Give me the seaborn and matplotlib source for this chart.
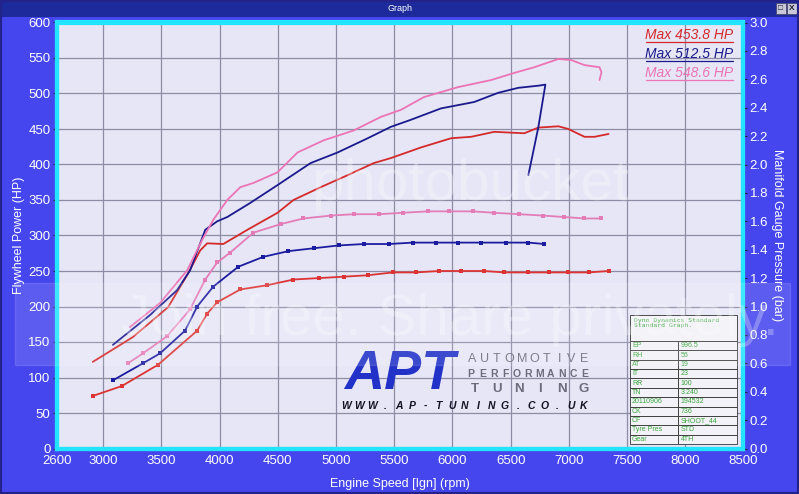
import numpy as np
import pandas as pd
import matplotlib
matplotlib.use("Agg")
import matplotlib.pyplot as plt
import seaborn as sns
from matplotlib.patches import Rectangle
from matplotlib.lines import Line2D
from matplotlib.transforms import IdentityTransform

# --- flywheel power (HP) ---
red_power_rpm = [2910, 3255, 3557, 3730, 3833, 3893, 4031, 4238, 4497, 4634, 4867, 5100, 5324,
                 5470, 5729, 5988, 6160, 6358, 6617, 6738, 6910, 6996, 7134, 7220, 7341]
red_power_hp = [122, 157, 199, 247, 279, 289, 288, 308, 332, 350, 368, 385, 402,
                409, 424, 437, 439, 446, 444, 452, 453.8, 450, 439, 439, 443]

blue_power_rpm = [3083, 3402, 3634, 3746, 3876, 3979, 4065, 4264, 4497, 4781, 5014, 5272, 5470,
                  5643, 5901, 6186, 6393, 6565, 6738, 6798, 6738, 6652]
blue_power_hp = [146, 188, 223, 251, 308, 320, 326, 346, 371, 402, 417, 437, 453,
                 463, 479, 488, 501, 508, 511, 512.5, 453, 385]

pink_power_rpm = [3229, 3488, 3721, 3850, 3945, 4065, 4177, 4290, 4497, 4669, 4893, 5152, 5384,
                  5557, 5755, 6048, 6333, 6531, 6703, 6910, 7022, 7134, 7263, 7280, 7263]
pink_power_hp = [171, 205, 251, 294, 322, 350, 368, 374, 389, 417, 434, 448, 467,
                 477, 495, 509, 519, 529, 537, 548.6, 547, 540, 537, 530, 519]

# --- manifold gauge pressure (bar) ---
red_boost_rpm = [2910, 3160, 3471, 3807, 3893, 3979, 4177, 4410, 4634, 4850, 5065, 5272, 5488,
                 5686, 5884, 6074, 6272, 6445, 6652, 6832, 6996, 7169, 7341]
red_boost_bar = [0.37, 0.44, 0.59, 0.83, 0.95, 1.03, 1.12, 1.15, 1.19, 1.20, 1.21, 1.22, 1.24,
                 1.24, 1.25, 1.25, 1.25, 1.24, 1.24, 1.24, 1.24, 1.24, 1.25]

blue_boost_rpm = [3083, 3341, 3488, 3703, 3807, 3945, 4160, 4376, 4591, 4807, 5022, 5238, 5453,
                  5660, 5858, 6048, 6246, 6462, 6652, 6790]
blue_boost_bar = [0.48, 0.60, 0.67, 0.83, 1.00, 1.14, 1.28, 1.35, 1.39, 1.41, 1.43, 1.44, 1.44,
                  1.45, 1.45, 1.45, 1.45, 1.45, 1.45, 1.44]

pink_boost_rpm = [3212, 3341, 3548, 3746, 3876, 3979, 4091, 4290, 4523, 4720, 4953, 5152, 5367,
                  5574, 5789, 5970, 6177, 6358, 6574, 6781, 6962, 7134, 7280]
pink_boost_bar = [0.60, 0.67, 0.79, 0.98, 1.19, 1.31, 1.38, 1.52, 1.58, 1.62, 1.64, 1.65, 1.65,
                  1.66, 1.67, 1.67, 1.67, 1.66, 1.65, 1.64, 1.63, 1.62, 1.62]

max_labels = ["Max 453.8 HP", "Max 512.5 HP", "Max 548.6 HP"]

table_keys = ["EP", "RH", "AT", "IT", "RR", "TN", "20110906", "CK", "CF", "Tyre Pres", "Gear"]
table_vals = ["996.5", "56", "19", "23", "100", "3.240", "194532", "736", "SHOOT_44", "STD", "4TH"]

x_ticks = [2600] + list(range(3000, 8501, 500))
hp_ticks = list(range(0, 601, 50))
bar_ticks = [round(0.2 * i, 1) for i in range(16)]

RED, BLUE, PINK = "#d42a2a", "#1a1a8e", "#ec74b6"
RED_B, BLUE_B, PINK_B = "#dc3434", "#1c1ca0", "#e47cb8"

sns.set_theme(style="white")
plt.rcParams["font.family"] = ["Liberation Sans", "DejaVu Sans"]

W, H = 799, 494
fig = plt.figure(figsize=(W / 100, H / 100), dpi=100, facecolor="#4646ee")

# plot area in pixels
L, R, T, B = 56.7, 743.5, 22.5, 448.5
ax = fig.add_axes([L / W, (H - B) / H, (R - L) / W, (B - T) / H])
ax.set_facecolor("#e6e6f6")
ax2 = ax.twinx()
ax2.patch.set_visible(False)


def px(x, y):
    # pixel position in figure -> axes fraction
    return (x - L) / (R - L), (B - y) / (B - T)


# curves
for xs, ys, c in [(red_power_rpm, red_power_hp, RED),
                  (blue_power_rpm, blue_power_hp, BLUE),
                  (pink_power_rpm, pink_power_hp, PINK)]:
    sns.lineplot(x=xs, y=ys, ax=ax, color=c, lw=1.3, sort=False, estimator=None)

for xs, ys, c in [(red_boost_rpm, red_boost_bar, RED_B),
                  (blue_boost_rpm, blue_boost_bar, BLUE_B),
                  (pink_boost_rpm, pink_boost_bar, PINK_B)]:
    sns.lineplot(x=xs, y=ys, ax=ax2, color=c, lw=1.3, sort=False, estimator=None,
                 marker="s", markersize=2.6, markeredgewidth=0)

ax.set_xlim(2600, 8500)
ax.set_ylim(0, 600)
ax2.set_ylim(0, 3.0)
ax.set_xticks(x_ticks)
ax.set_yticks(hp_ticks)
ax2.set_yticks(bar_ticks)
ax2.set_yticklabels([f"{v:.1f}" for v in bar_ticks])

ax.grid(True, color="#8c8ca4", lw=0.9)
ax2.grid(False)

for a in (ax, ax2):
    a.tick_params(axis="both", colors="#202040", labelcolor="white", length=3, width=0.8,
                  labelsize=9.5, pad=1.5)
    for s in a.spines.values():
        s.set_color("#22e4ff")
        s.set_linewidth(3)

ax.set_xlabel("Engine Speed [Ign] (rpm)", color="white", fontsize=9)
ax.set_ylabel("Flywheel Power (HP)", color="white", fontsize=9)
ax2.set_ylabel("Manifold Gauge Pressure (bar)", color="white", fontsize=9, rotation=-90)
ax.xaxis.set_label_coords(0.5, px(0, 478)[1])
ax.yaxis.set_label_coords(px(25, 0)[0], 0.5)
ax2.yaxis.set_label_coords(px(783, 0)[0], 0.5)

# max labels
max_texts = []
for lab, c, yy in zip(max_labels, [RED, BLUE, PINK], [35, 54, 73]):
    t = ax2.text(*px(733, yy), lab, transform=ax2.transAxes, ha="right", va="center",
                 fontsize=10, fontstyle="italic", color=c)
    max_texts.append((t, c))

# dyno table
x0, _ = px(630, 0)
x1, _ = px(737, 0)
_, y_top = px(0, 315)
_, y_mid = px(0, 341)
_, y_bot = px(0, 444)
ax2.add_patch(Rectangle((x0, y_mid), x1 - x0, y_top - y_mid, transform=ax2.transAxes,
                        facecolor="#f2f2f8", edgecolor="#333333", lw=0.7, zorder=5))
ax2.text(x0 + 0.006, y_top - 0.008, "Dyno Dynamics Standard\nStandard Graph.",
         transform=ax2.transAxes, ha="left", va="top", fontsize=4.6, color="#3aa63a",
         family="DejaVu Sans Mono", zorder=6, linespacing=1.0)
tbl = ax2.table(cellText=[[k, v] for k, v in zip(table_keys, table_vals)], cellLoc="left",
                bbox=[x0, y_bot, x1 - x0, y_mid - y_bot], colWidths=[0.45, 0.55], zorder=5)
tbl.auto_set_font_size(False)
tbl.set_fontsize(5)
for cell in tbl.get_celld().values():
    cell.set_edgecolor("#333333")
    cell.set_linewidth(0.6)
    cell.set_facecolor("#f2f2f8")
    cell.get_text().set_color("#3aa63a")
    cell.PAD = 0.04

# APT logo
ax2.text(*px(400, 375), "APT", transform=ax2.transAxes, ha="center", va="center",
         fontsize=40, fontweight="bold", fontstyle="italic", color="#2232c8")


def spaced(s, xa, xb, y, **kw):
    xs = np.linspace(px(xa, 0)[0], px(xb, 0)[0], len(s))
    for ch, xx in zip(s, xs):
        ax2.text(xx, px(0, y)[1], ch, transform=ax2.transAxes, ha="center", va="center", **kw)


spaced("AUTOMOTIVE", 472, 584, 359, fontsize=9, color="#6c6c7c")
spaced("PERFORMANCE", 471, 585, 374, fontsize=7.5, fontweight="bold", color="#6c6c7c")
spaced("TUNING", 475, 584, 389, fontsize=9.5, fontweight="bold", color="#6c6c7c")
spaced("WWW.AP-TUNING.CO.UK", 346, 584, 406, fontsize=7.5, fontweight="bold",
       fontstyle="italic", color="#111122")

# photobucket watermark
fig.patches.append(Rectangle((15 / W, (H - 365) / H), 775 / W, 82 / H, transform=fig.transFigure,
                             facecolor="white", alpha=0.12, zorder=10))
fig.text(470 / W, (H - 185) / H, "photobucket", ha="center", va="center", fontsize=42,
         color="white", alpha=0.3, zorder=11)
fig.text(450 / W, (H - 320) / H, "Join free. Share privately.", ha="center", va="center",
         fontsize=42, color="white", alpha=0.28, zorder=11)

# window title bar
fig.patches.append(Rectangle((0, (H - 17) / H), 1, 17 / H, transform=fig.transFigure,
                             facecolor="#1c2a9c", edgecolor="none", zorder=2))
fig.text(0.5, (H - 8.5) / H, "Graph", ha="center", va="center", fontsize=6.5, color="white")
for bx, ch in [(776, "\u25A1"), (787, "X")]:
    fig.patches.append(Rectangle((bx / W, (H - 14) / H), 10 / W, 11 / H, transform=fig.transFigure,
                                 facecolor="#c8c8d8", edgecolor="#404060", lw=0.5, zorder=3))
    fig.text((bx + 5) / W, (H - 8.5) / H, ch, ha="center", va="center", fontsize=6,
             color="#202030", fontweight="bold", zorder=4)
fig.patches.append(Rectangle((0, 0), 1, 1, transform=fig.transFigure, facecolor="none",
                             edgecolor="#22228a", lw=3, zorder=12))

# underline the max labels
fig.canvas.draw()
for t, c in max_texts:
    bb = t.get_window_extent()
    fig.add_artist(Line2D([bb.x0 + 1, bb.x1], [bb.y0 + 0.5, bb.y0 + 0.5], transform=IdentityTransform(),
                          color=c, lw=0.9))

fig.savefig("out.png", dpi=100, facecolor=fig.get_facecolor())
